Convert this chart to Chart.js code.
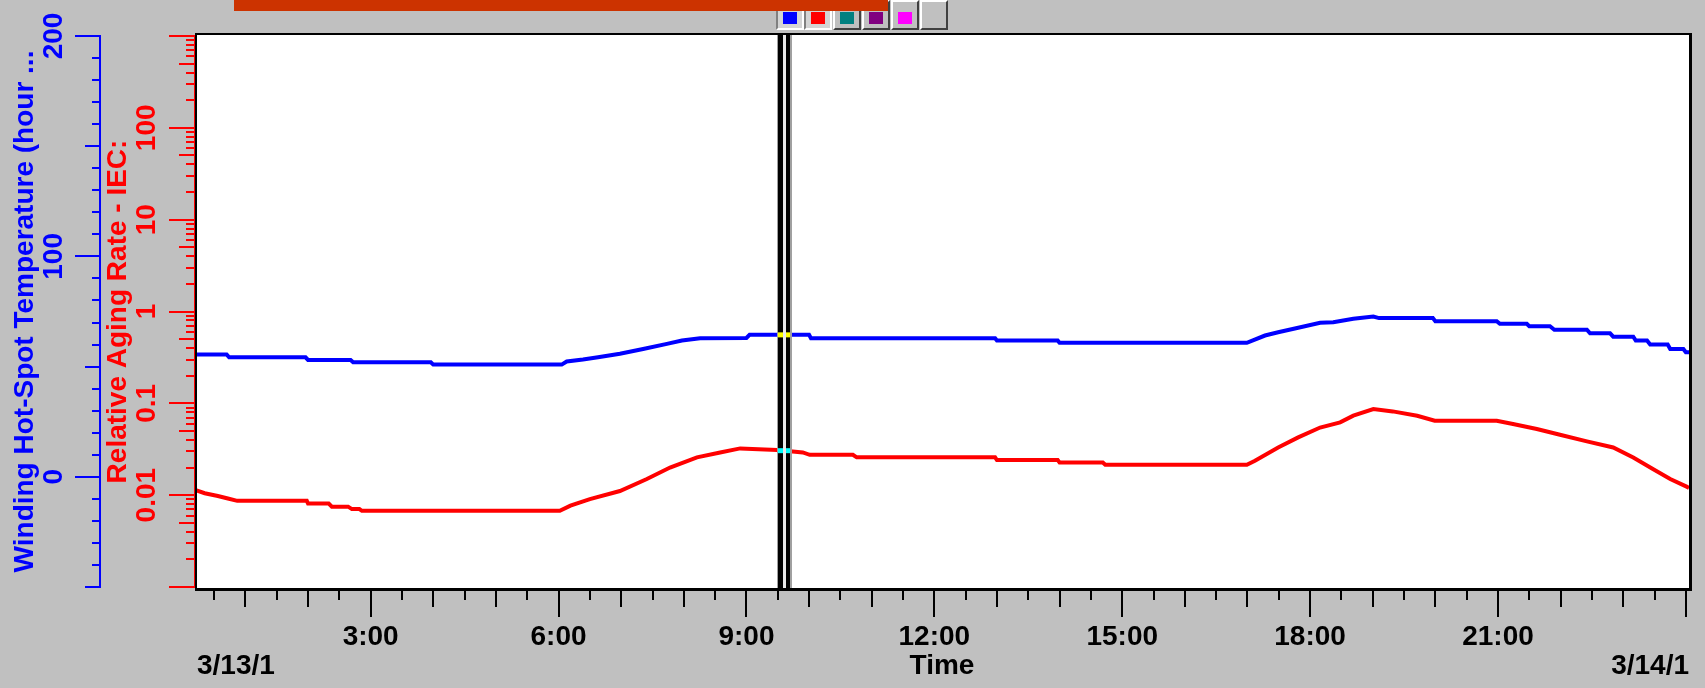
<!DOCTYPE html>
<html>
<head>
<meta charset="utf-8">
<script src="https://cdn.jsdelivr.net/npm/chart.js@4.4.1/dist/chart.umd.min.js"></script>
<style>
  html, body { margin: 0; padding: 0; background: #c0c0c0; }
  #wrap { position: relative; width: 1705px; height: 688px; overflow: hidden; }
  #chart { position: absolute; left: 0; top: 0; }
  .topbar { position: absolute; left: 234px; top: 0; width: 654px; height: 11px; background: #cc3300; z-index: 3; }
  .btn { position: absolute; top: 0; width: 24px; height: 26px; background: #c0c0c0; border: 2px solid; border-color: #ffffff #404040 #404040 #ffffff; z-index: 2; }
  .btn.down { border-color: #808080 #ffffff #ffffff #808080; background: #d4d4d4; }
  .btn i { position: absolute; left: 5px; top: 10px; width: 14px; height: 12px; }
</style>
</head>
<body>
<div id="wrap">
  <canvas id="chart" width="1705" height="688"></canvas>
  <div class="topbar"></div>
  <div class="btn down" style="left:776px"><i style="background:#0000ff"></i></div>
  <div class="btn down" style="left:804px"><i style="background:#ff0000"></i></div>
  <div class="btn" style="left:833px"><i style="background:#008080"></i></div>
  <div class="btn" style="left:862px"><i style="background:#800080"></i></div>
  <div class="btn" style="left:891px"><i style="background:#ff00ff"></i></div>
  <div class="btn" style="left:920px"></div>
</div>
<script>
document.addEventListener('DOMContentLoaded', () => {
    // --- DATOS (horas desde 3/13/1 0:00) ---
    const blueHours = [0.195, 0.70, 0.74, 1.96, 2.00, 2.68, 2.72, 3.96, 4.00, 6.05, 6.13, 6.39, 6.63, 6.98,
        7.35, 7.73, 7.97, 8.26, 9.00, 9.05, 10.00, 10.03, 12.97, 13.00, 13.97, 14.00, 16.99, 17.28,
        17.49, 17.81, 18.16, 18.37, 18.69, 19.01, 19.10, 19.96, 20.00, 20.98, 21.03, 21.46, 21.50,
        21.83, 21.90, 22.42, 22.47, 22.79, 22.84, 23.16, 23.20, 23.38, 23.43, 23.71, 23.75, 23.96,
        24.00, 24.05];
    const blueTemps = [55.5, 55.5, 54.2, 54.2, 53.0, 53.0, 52.0, 52.0, 50.9, 50.9, 52.3, 53.2, 54.2, 55.8,
        58.0, 60.3, 61.8, 62.9, 63.0, 64.4, 64.4, 62.9, 62.9, 61.8, 61.8, 60.8, 60.8, 64.1,
        65.6, 67.6, 69.9, 70.1, 71.7, 72.7, 72.0, 72.0, 70.6, 70.6, 69.4, 69.4, 68.3,
        68.3, 66.7, 66.7, 65.1, 65.1, 63.6, 63.6, 61.8, 61.8, 60.0, 60.0, 58.0, 58.0,
        56.5, 56.5];

    const redHours = [0.195, 0.35, 0.56, 0.72, 0.87, 1.98, 2.00, 2.33, 2.38, 2.64, 2.70, 2.82, 2.86, 6.02,
        6.19, 6.50, 6.98, 7.41, 7.78, 8.21, 8.58, 8.90, 9.49, 9.90, 10.01, 10.70, 10.76, 12.97,
        13.00, 13.97, 14.00, 14.69, 14.73, 16.99, 17.12, 17.49, 17.81, 18.16, 18.48, 18.69, 19.01,
        19.32, 19.71, 19.99, 20.98, 21.24, 21.62, 21.99, 22.42, 22.84, 23.16, 23.48, 23.75, 24.02,
        24.05];
    const redRates = [0.0114, 0.0105, 0.0098, 0.0092, 0.00867, 0.00867, 0.0081, 0.0081, 0.0075, 0.0075, 0.00705, 0.00705, 0.00675, 0.00675,
        0.0077, 0.00905, 0.0111, 0.0150, 0.0200, 0.0258, 0.0292, 0.0323, 0.0310, 0.0292, 0.0275, 0.0275, 0.0258, 0.0258,
        0.0241, 0.0241, 0.0227, 0.0227, 0.0214, 0.0214, 0.0237, 0.0331, 0.0426, 0.0545, 0.0620, 0.0733, 0.0867,
        0.0817, 0.0733, 0.0646, 0.0646, 0.0595, 0.0525, 0.0455, 0.0385, 0.0331, 0.0257, 0.0192, 0.0150, 0.0123,
        0.0120];

    const timeTickHours = [3, 6, 9, 12, 15, 18, 21];
    const tempTickValues = [0, 100, 200];
    const rateTickValues = [0.01, 0.1, 1, 10, 100];
    const rateTickLabels = ['0.01', '0.1', '1', '10', '100'];
    const cursorHour = 9.6;
    const startDate = '3/13/1';
    const endDate = '3/14/1';

    const FONT = '"Liberation Sans", Arial, sans-serif';
    Chart.defaults.font.family = FONT;
    const bold28 = { family: FONT, size: 28, weight: 'bold' };

    // pixel de la línea en una x dada (interpolado entre puntos, como lo dibuja Chart.js)
    function linePixelAt(hours, vals, xs, ys, px) {
        for (let i = 0; i < hours.length - 1; i++) {
            const x0 = xs.getPixelForValue(hours[i]), x1 = xs.getPixelForValue(hours[i + 1]);
            if (px >= x0 && px <= x1) {
                const y0 = ys.getPixelForValue(vals[i]), y1 = ys.getPixelForValue(vals[i + 1]);
                return y0 + (y1 - y0) * (px - x0) / ((x1 - x0) || 1);
            }
        }
        return null;
    }

    function tick(ctx, x0, y0, x1, y1) {
        ctx.beginPath();
        ctx.moveTo(x0, y0);
        ctx.lineTo(x1, y1);
        ctx.stroke();
    }

    // --- MARCO, CURSOR Y MARCAS DE EJE ---
    const decor = {
        id: 'decor',
        beforeDatasetsDraw(chart) {
            const { ctx, chartArea: a } = chart;
            ctx.save();
            ctx.fillStyle = '#ffffff';
            ctx.fillRect(a.left, a.top - 2, a.right - a.left, a.bottom - a.top + 3);
            ctx.restore();
        },
        afterDatasetsDraw(chart) {
            const { ctx, chartArea: a, scales } = chart;
            const xs = scales.x;
            ctx.save();
            ctx.fillStyle = '#000000';
            ctx.fillRect(a.left, a.top - 3, a.right - a.left + 3, 2);
            ctx.fillRect(a.left, a.top - 3, 2, a.bottom - a.top + 5);
            ctx.fillRect(a.right, a.top - 3, 3, a.bottom - a.top + 5);
            ctx.fillRect(a.left, a.bottom + 1, a.right - a.left + 3, 3);

            // cursor doble
            const cx = Math.round(xs.getPixelForValue(cursorHour));
            const top = a.top - 1, h = a.bottom - a.top + 2;
            ctx.fillStyle = '#a0a0a0';
            ctx.fillRect(cx - 7, top, 15, h);
            ctx.fillStyle = '#000000';
            ctx.fillRect(cx - 6, top, 5, h);
            ctx.fillRect(cx + 2, top, 4, h);
            ctx.fillStyle = '#e8e8e8';
            ctx.fillRect(cx - 1, top, 3, h);

            const by = linePixelAt(blueHours, blueTemps, xs, scales.yTemp, cx);
            const ry = linePixelAt(redHours, redRates, xs, scales.yRate, cx);
            if (by !== null) {
                ctx.fillStyle = '#ffff00';
                ctx.fillRect(cx - 6, by - 2.5, 5, 5);
                ctx.fillRect(cx + 2, by - 2.5, 4, 5);
            }
            if (ry !== null) {
                ctx.fillStyle = '#00ffff';
                ctx.fillRect(cx - 6, ry - 2.5, 5, 5);
                ctx.fillRect(cx + 2, ry - 2.5, 4, 5);
            }
            ctx.restore();
        },
        afterDraw(chart) {
            const { ctx, chartArea: a, scales } = chart;
            const xs = scales.x, yt = scales.yTemp, yr = scales.yRate;
            ctx.save();
            ctx.lineWidth = 2;

            ctx.strokeStyle = '#000000';
            for (let hh = 0.5; hh <= 24; hh += 0.5) {
                const len = hh % 3 === 0 ? 29 : (hh % 1 === 0 ? 19 : 12);
                const x = Math.round(xs.getPixelForValue(hh));
                tick(ctx, x, a.bottom + 1, x, a.bottom + 1 + len);
            }

            ctx.strokeStyle = '#0000ff';
            for (let v = -50; v <= 200; v += 10) {
                const len = v % 100 === 0 ? 25 : (v % 50 === 0 ? 15 : 8);
                const y = Math.round(yt.getPixelForValue(v));
                tick(ctx, yt.right, y, yt.right - len, y);
            }

            ctx.strokeStyle = '#ff0000';
            for (let d = -3; d <= 3; d++) {
                for (let m = 1; m <= 9; m++) {
                    if (d === 3 && m > 1) break;
                    const v = m * Math.pow(10, d);
                    const len = m === 1 ? 25 : (m === 5 ? 15 : 8);
                    const y = Math.round(yr.getPixelForValue(v));
                    tick(ctx, yr.right - 1, y, yr.right - 1 - len, y);
                }
            }

            ctx.fillStyle = '#000000';
            ctx.font = 'bold 28px ' + FONT;
            ctx.textBaseline = 'middle';
            const ty = xs.bottom - 22;
            ctx.textAlign = 'left';
            ctx.fillText(startDate, a.left + 2, ty);
            ctx.textAlign = 'right';
            ctx.fillText(endDate, a.right, ty);
            ctx.restore();
        }
    };

    new Chart(document.getElementById('chart'), {
        type: 'line',
        data: {
            datasets: [{
                label: 'Winding Hot-Spot Temperature',
                data: blueHours.map((h, i) => ({ x: h, y: blueTemps[i] })),
                yAxisID: 'yTemp',
                borderColor: '#0000ff',
                borderWidth: 4,
                pointRadius: 0,
                tension: 0
            }, {
                label: 'Relative Aging Rate - IEC',
                data: redHours.map((h, i) => ({ x: h, y: redRates[i] })),
                yAxisID: 'yRate',
                borderColor: '#ff0000',
                borderWidth: 4,
                pointRadius: 0,
                tension: 0
            }]
        },
        options: {
            responsive: false,
            animation: false,
            events: [],
            layout: { padding: { top: 36, right: 16, left: 0, bottom: 0 } },
            plugins: { legend: { display: false }, tooltip: { enabled: false } },
            scales: {
                x: {
                    type: 'linear', position: 'bottom', min: 0.195, max: 24.05,
                    afterBuildTicks: s => { s.ticks = timeTickHours.map(v => ({ value: v })); },
                    afterFit: s => { s.height = 101; },
                    grid: { display: false, drawTicks: true, tickLength: 27 },
                    border: { display: false },
                    ticks: { color: '#000000', font: bold28, padding: 6, maxRotation: 0, autoSkip: false,
                             callback: v => v + ':00' },
                    title: { display: true, text: 'Time', color: '#000000', font: bold28, padding: { top: 0, bottom: 5 } }
                },
                yTemp: {
                    type: 'linear', position: 'left', min: -50, max: 200, weight: 1,
                    afterBuildTicks: s => { s.ticks = tempTickValues.map(v => ({ value: v })); },
                    afterFit: s => { s.width = 100; },
                    grid: { display: false, drawTicks: true, tickLength: 18 },
                    border: { display: true, color: '#0000ff', width: 2 },
                    ticks: { color: '#0000ff', font: bold28, padding: 4, minRotation: 90, maxRotation: 90,
                             crossAlign: 'center', autoSkip: false, callback: v => String(v) },
                    title: { display: true, text: 'Winding Hot-Spot Temperature (hour ...', color: '#0000ff',
                             font: bold28, padding: { top: 8, bottom: 0 } }
                },
                yRate: {
                    type: 'logarithmic', position: 'left', min: 0.001, max: 1000, weight: 0,
                    afterBuildTicks: s => { s.ticks = rateTickValues.map(v => ({ value: v })); },
                    afterFit: s => { s.width = 95; },
                    grid: { display: false, drawTicks: true, tickLength: 16 },
                    border: { display: true, color: '#ff0000', width: 3 },
                    ticks: { color: '#ff0000', font: bold28, padding: 4, minRotation: 90, maxRotation: 90,
                             crossAlign: 'center', autoSkip: false,
                             callback: (v, i) => rateTickLabels[i] },
                    title: { display: true, text: 'Relative Aging Rate - IEC:', color: '#ff0000',
                             font: bold28, padding: { top: 1, bottom: 0 } }
                }
            }
        },
        plugins: [decor]
    });
});
</script>
</body>
</html>
